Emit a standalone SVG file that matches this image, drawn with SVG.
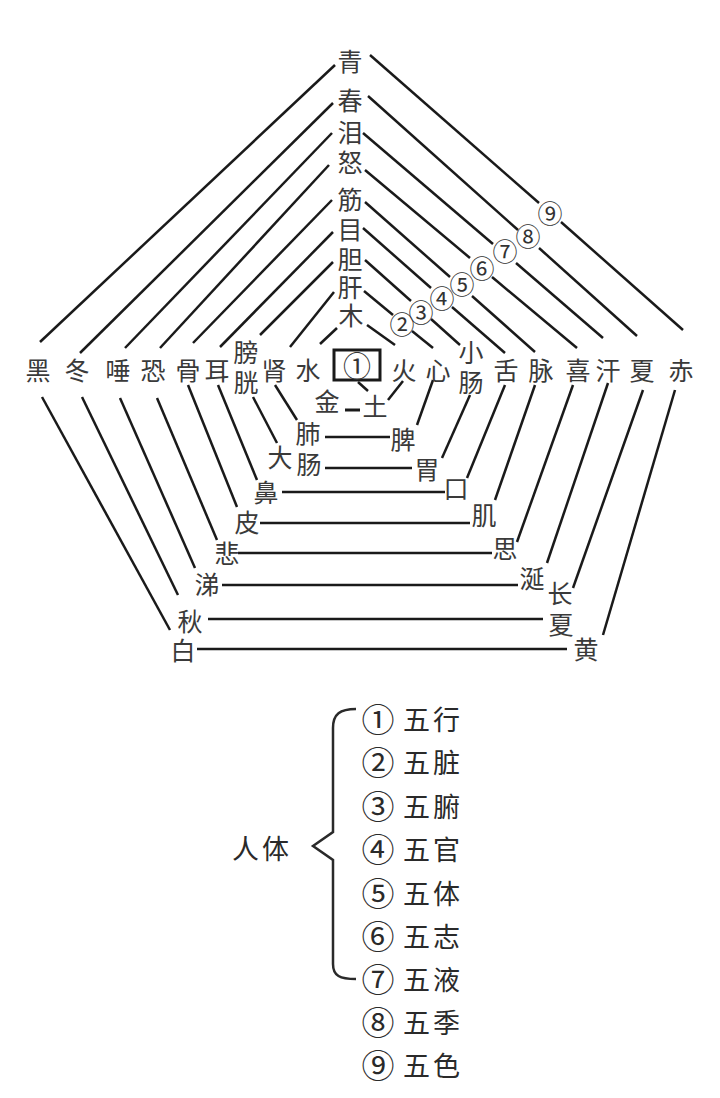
<svg xmlns="http://www.w3.org/2000/svg" width="720" height="1098" viewBox="0 0 720 1098">
<style>
.lb{font-family:"Noto Sans CJK SC","Noto Sans",sans-serif;font-size:25px;fill:#3a3a3a;text-anchor:middle;dominant-baseline:central}
.cn{font-family:"Noto Sans CJK SC","DejaVu Sans",sans-serif;font-size:25px;fill:#333;text-anchor:middle;dominant-baseline:central}
.lg{font-family:"Noto Sans CJK SC","Noto Sans",sans-serif;font-size:27px;fill:#2a2a2a;dominant-baseline:central;letter-spacing:3px}
.lgn{font-family:"Noto Sans CJK SC","DejaVu Sans",sans-serif;font-size:33px;fill:#2a2a2a;text-anchor:middle;dominant-baseline:central}
.ln line{stroke:#1a1a1a;stroke-width:2.5;stroke-linecap:butt}
</style>
<rect width="720" height="1098" fill="#fff"/>
<g id="connectors" class="ln">
<line x1="370" y1="55" x2="539" y2="203"/><line x1="561" y1="222" x2="683" y2="330"/>
<line x1="675" y1="390" x2="603" y2="635"/>
<line x1="197" y1="649" x2="567" y2="649"/>
<line x1="170" y1="630" x2="42" y2="397"/>
<line x1="40" y1="342" x2="335" y2="65"/>
<line x1="368" y1="96" x2="518" y2="230"/><line x1="539" y1="248" x2="637" y2="336"/>
<line x1="643" y1="390" x2="573" y2="588"/>
<line x1="208" y1="619" x2="543" y2="619"/>
<line x1="178" y1="595" x2="82" y2="397"/>
<line x1="80" y1="353" x2="333" y2="103"/>
<line x1="363" y1="133" x2="493" y2="244"/><line x1="516" y1="263" x2="603" y2="338"/>
<line x1="608" y1="383" x2="547" y2="563"/>
<line x1="222" y1="585" x2="518" y2="585"/>
<line x1="195" y1="568" x2="120" y2="398"/>
<line x1="125" y1="348" x2="332" y2="133"/>
<line x1="365" y1="170" x2="470" y2="258"/><line x1="492" y1="277" x2="577" y2="348"/>
<line x1="573" y1="385" x2="517" y2="542"/>
<line x1="238" y1="553" x2="492" y2="553"/>
<line x1="217" y1="540" x2="157" y2="398"/>
<line x1="160" y1="348" x2="329" y2="165"/>
<line x1="365" y1="202" x2="450" y2="277"/><line x1="472" y1="296" x2="535" y2="352"/>
<line x1="535" y1="385" x2="495" y2="500"/>
<line x1="260" y1="523" x2="470" y2="523"/>
<line x1="237" y1="507" x2="188" y2="385"/>
<line x1="193" y1="343" x2="332" y2="200"/>
<line x1="363" y1="228" x2="431" y2="288"/><line x1="452" y1="307" x2="505" y2="353"/>
<line x1="505" y1="385" x2="467" y2="478"/>
<line x1="282" y1="492" x2="445" y2="492"/>
<line x1="257" y1="480" x2="218" y2="385"/>
<line x1="220" y1="347" x2="333" y2="232"/>
<line x1="365" y1="260" x2="411" y2="301"/><line x1="431" y1="319" x2="460" y2="345"/>
<line x1="470" y1="395" x2="442" y2="458"/>
<line x1="325" y1="468" x2="412" y2="468"/>
<line x1="277" y1="443" x2="253" y2="397"/>
<line x1="260" y1="335" x2="333" y2="262"/>
<line x1="364" y1="291" x2="393" y2="315"/><line x1="412" y1="331" x2="433" y2="348"/>
<line x1="433" y1="380" x2="417" y2="425"/>
<line x1="325" y1="437" x2="390" y2="437"/>
<line x1="297" y1="420" x2="275" y2="385"/>
<line x1="290" y1="347" x2="334" y2="292"/>
<line x1="367" y1="325" x2="395" y2="345"/>
<line x1="403" y1="381" x2="388" y2="400"/>
<line x1="345" y1="410" x2="360" y2="410" style="stroke-width:3"/>
<line x1="358" y1="382" x2="368" y2="391"/>
<line x1="320" y1="344" x2="337" y2="328"/>
</g>
<g id="center">
<rect x="334" y="350" width="46" height="30" fill="none" stroke="#1a1a1a" stroke-width="3"/>
<text class="cn" x="357" y="365" style="font-size:28px">①</text>
</g>
<g id="level1">
<text id="mu" class="lb" x="351" y="314">木</text>
<text id="huo" class="lb" x="404" y="369">火</text>
<text id="tu" class="lb" x="375" y="405">土</text>
<text id="jin" class="lb" x="327" y="400">金</text>
<text id="shui" class="lb" x="308" y="369">水</text>
</g>
<g id="level2">
<text id="gan" class="lb" x="350" y="286">肝</text>
<text id="xin" class="lb" x="438" y="369">心</text>
<text id="pi" class="lb" x="403" y="438">脾</text>
<text id="fei" class="lb" x="308" y="432">肺</text>
<text id="shen" class="lb" x="274" y="369">肾</text>
</g>
<g id="level3">
<text id="dan" class="lb" x="350" y="258">胆</text>
<text id="xiaochang" class="lb"><tspan x="471" y="351">小</tspan><tspan x="471" y="381">肠</tspan></text>
<text id="wei" class="lb" x="427" y="468">胃</text>
<text id="dachang" class="lb"><tspan x="280" y="456">大</tspan><tspan x="309" y="463">肠</tspan></text>
<text id="pangguang" class="lb"><tspan x="246" y="351">膀</tspan><tspan x="246" y="381">胱</tspan></text>
</g>
<g id="level4">
<text id="mu2" class="lb" x="350" y="228">目</text>
<text id="she" class="lb" x="506" y="369">舌</text>
<text id="kou" class="lb" x="456" y="487">口</text>
<text id="bi" class="lb" x="266" y="491">鼻</text>
<text id="er" class="lb" x="217" y="369">耳</text>
</g>
<g id="level5">
<text id="jinn" class="lb" x="350" y="198">筋</text>
<text id="mai" class="lb" x="541" y="369">脉</text>
<text id="ji" class="lb" x="484" y="514">肌</text>
<text id="pi2" class="lb" x="247" y="521">皮</text>
<text id="gu" class="lb" x="188" y="369">骨</text>
</g>
<g id="level6">
<text id="nu" class="lb" x="350" y="161">怒</text>
<text id="xi" class="lb" x="578" y="369">喜</text>
<text id="si" class="lb" x="505" y="547">思</text>
<text id="bei" class="lb" x="227" y="552">悲</text>
<text id="kong" class="lb" x="153" y="369">恐</text>
</g>
<g id="level7">
<text id="lei" class="lb" x="350" y="131">泪</text>
<text id="han" class="lb" x="608" y="369">汗</text>
<text id="xian" class="lb" x="532" y="577">涎</text>
<text id="ti" class="lb" x="207" y="583">涕</text>
<text id="tuo" class="lb" x="118" y="369">唾</text>
</g>
<g id="level8">
<text id="chun" class="lb" x="350" y="99">春</text>
<text id="xia" class="lb" x="642" y="369">夏</text>
<text id="changxia" class="lb"><tspan x="560" y="592">长</tspan><tspan x="561" y="623">夏</tspan></text>
<text id="qiu" class="lb" x="190" y="620">秋</text>
<text id="dong" class="lb" x="77" y="369">冬</text>
</g>
<g id="level9">
<text id="qing" class="lb" x="350" y="60">青</text>
<text id="chi" class="lb" x="681" y="369">赤</text>
<text id="huang" class="lb" x="586" y="648">黄</text>
<text id="bai" class="lb" x="183" y="649">白</text>
<text id="hei" class="lb" x="38" y="369">黑</text>
</g>
<g id="edge-numbers">
<text class="cn" x="402" y="323">②</text>
<text class="cn" x="421" y="311">③</text>
<text class="cn" x="442" y="297">④</text>
<text class="cn" x="462" y="283">⑤</text>
<text class="cn" x="482" y="267">⑥</text>
<text class="cn" x="505" y="250">⑦</text>
<text class="cn" x="528" y="235">⑧</text>
<text class="cn" x="550" y="212">⑨</text>
</g>
<g id="legend">
<text class="lg" x="232" y="847">人体</text>
<path d="M356,709 C340,709 333,714 333,728 L333,832 L313,846 L333,860 L333,964 C333,976 340,979 356,979" fill="none" stroke="#2a2a2a" stroke-width="2.5"/>
<text class="lgn" x="378" y="718">①</text><text class="lg" x="403" y="718">五行</text>
<text class="lgn" x="378" y="761">②</text><text class="lg" x="403" y="761">五脏</text>
<text class="lgn" x="378" y="805">③</text><text class="lg" x="403" y="805">五腑</text>
<text class="lgn" x="378" y="848">④</text><text class="lg" x="403" y="848">五官</text>
<text class="lgn" x="378" y="892">⑤</text><text class="lg" x="403" y="892">五体</text>
<text class="lgn" x="378" y="935">⑥</text><text class="lg" x="403" y="935">五志</text>
<text class="lgn" x="378" y="978">⑦</text><text class="lg" x="403" y="978">五液</text>
<text class="lgn" x="378" y="1021">⑧</text><text class="lg" x="403" y="1021">五季</text>
<text class="lgn" x="378" y="1064">⑨</text><text class="lg" x="403" y="1064">五色</text>
</g>
</svg>
